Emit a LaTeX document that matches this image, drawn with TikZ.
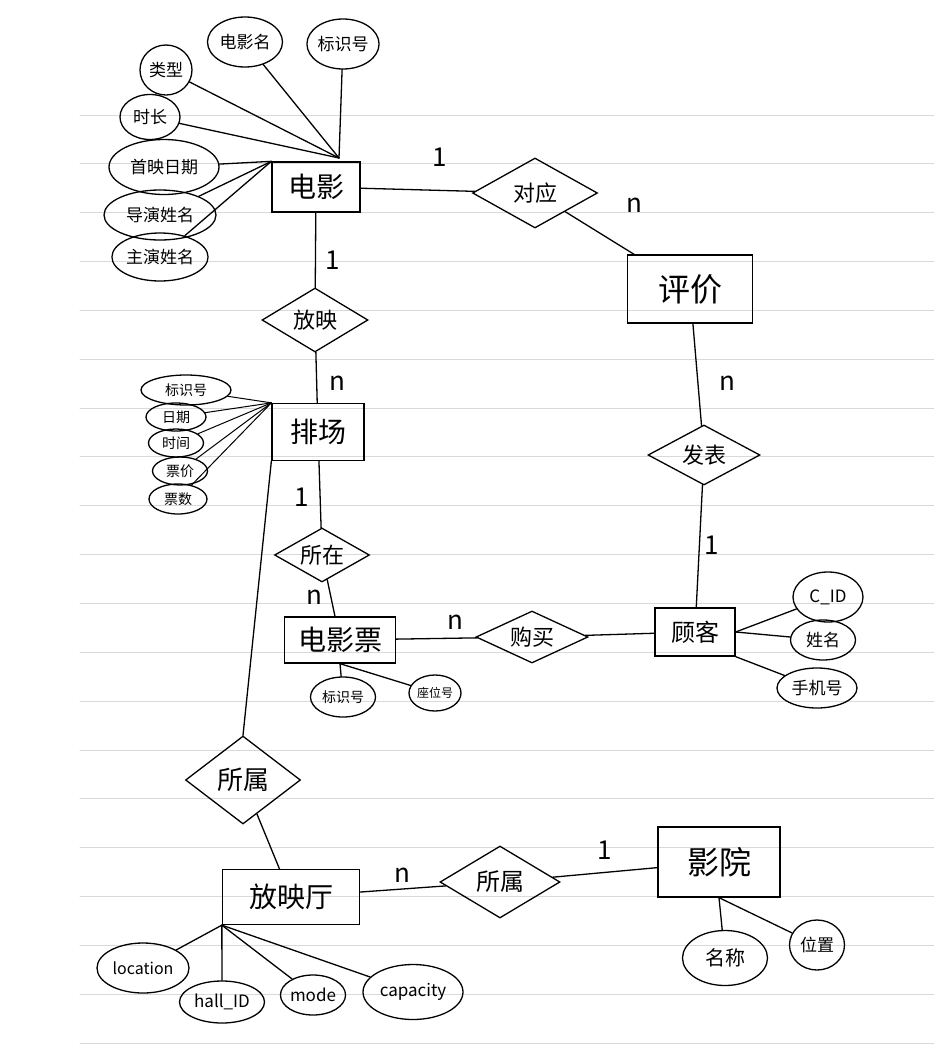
\documentclass[tikz,border=0pt]{standalone}
\usepackage{fontspec}
\setmainfont{Noto Sans CJK SC}
\usetikzlibrary{shapes.geometric,positioning}

\begin{document}
\begin{tikzpicture}[x=1pt,y=-1pt,line width=1.3pt,line cap=round,
  entity/.style={draw,rectangle,inner sep=2pt,font=\fontsize{28}{28}\selectfont},
  relation/.style={draw,diamond,aspect=1.8,inner sep=0pt,font=\fontsize{22}{22}\selectfont},
  attr/.style={draw,ellipse,inner sep=0pt,font=\fontsize{17}{17}\selectfont},
  small/.style={attr,font=\fontsize{14}{14}\selectfont},
  card/.style={font=\fontsize{26}{26}\selectfont}]
  \useasboundingbox (0,0) rectangle (934,1060);
  \fill[white] (0,0) rectangle (934,1060);
  % ruled paper
  \foreach \k in {0,...,19}
    \draw[black!15,line width=1pt] (80,115+48.85*\k) -- (934,115+48.85*\k);

  % entities
  \node[entity,minimum width=88,minimum height=50] (movie) at (316,187) {电影};
  \node[entity,minimum width=125,minimum height=68,font=\fontsize{32}{32}\selectfont] (review) at (690,289) {评价};
  \node[entity,minimum width=92,minimum height=57] (show) at (318,432) {排场};
  \node[entity,minimum width=111,minimum height=46] (ticket) at (340,640) {电影票};
  \node[entity,minimum width=80,minimum height=48,font=\fontsize{24}{24}\selectfont] (customer) at (695,632) {顾客};
  \node[entity,minimum width=137,minimum height=55] (hall) at (291,897) {放映厅};
  \node[entity,minimum width=122,minimum height=70,font=\fontsize{32}{32}\selectfont] (cinema) at (719,862) {影院};

  % relationships
  \node[relation,minimum width=125,minimum height=70] (match) at (535,193) {对应};
  \node[relation,minimum width=106,minimum height=64] (screen) at (315,320) {放映};
  \node[relation,minimum width=95,minimum height=54] (locate) at (322,555) {所在};
  \node[relation,minimum width=112,minimum height=52] (buy) at (532,637) {购买};
  \node[relation,minimum width=112,minimum height=60] (post) at (704,455) {发表};
  \node[relation,minimum width=115,minimum height=88,font=\fontsize{26}{26}\selectfont] (belong) at (243,780) {所属};
  \node[relation,minimum width=120,minimum height=72,font=\fontsize{24}{24}\selectfont] (own) at (500,882) {所属};

  % attributes of the film
  \node[attr,minimum width=52,minimum height=50] (mtype) at (166,70) {类型};
  \node[attr,minimum width=75,minimum height=50] (mname) at (245,42) {电影名};
  \node[attr,minimum width=72,minimum height=50] (mid) at (343,44) {标识号};
  \node[attr,minimum width=60,minimum height=45] (mlen) at (150,117) {时长};
  \node[attr,minimum width=110,minimum height=55] (mdate) at (164,167) {首映日期};
  \node[attr,minimum width=112,minimum height=50] (mdir) at (160,215) {导演姓名};
  \node[attr,minimum width=95,minimum height=48] (mstar) at (160,257) {主演姓名};
  \coordinate (mhub) at (339,158);

  % attributes of the showing
  \node[small,minimum width=90,minimum height=30] (sid) at (186,390) {标识号};
  \node[small,minimum width=60,minimum height=28] (sdate) at (176,417) {日期};
  \node[small,minimum width=55,minimum height=28] (stime) at (176,443) {时间};
  \node[small,minimum width=55,minimum height=28] (sprice) at (180,471) {票价};
  \node[small,minimum width=58,minimum height=30] (snum) at (178,499) {票数};

  % attributes of the ticket, customer, hall, cinema
  \node[small,minimum width=65,minimum height=40] (tid) at (343,697) {标识号};
  \node[attr,minimum width=52,minimum height=36,font=\fontsize{12}{12}\selectfont] (tseat) at (435,693) {座位号};
  \node[attr,minimum width=70,minimum height=50] (cid) at (828,597) {C\_ID};
  \node[attr,minimum width=65,minimum height=40] (cname) at (823,640) {姓名};
  \node[attr,minimum width=80,minimum height=40] (cphone) at (817,688) {手机号};
  \node[attr,minimum width=92,minimum height=50,font=\fontsize{16}{16}\selectfont] (hloc) at (143,968) {location};
  \node[attr,minimum width=85,minimum height=42] (hid) at (222,1002) {hall\_ID};
  \node[attr,minimum width=60,minimum height=40] (hmode) at (313,995) {mode};
  \node[attr,minimum width=100,minimum height=55] (hcap) at (413,992) {capacity};
  \node[attr,minimum width=85,minimum height=55,font=\fontsize{20}{20}\selectfont] (kname) at (725,958) {名称};
  \node[attr,minimum width=55,minimum height=50] (kplace) at (817,945) {位置};

  % cardinalities
  \node[card] (n1) at (440,157) {1};
  \node[card] (n2) at (634,205) {n};
  \node[card] (n3) at (333,260) {1};
  \node[card] (n4) at (337,383) {n};
  \node[card] (n5) at (727,383) {n};
  \node[card] (n6) at (712,545) {1};
  \node[card] (n7) at (302,497) {1};
  \node[card] (n8) at (314,597) {n};
  \node[card] (n9) at (455,622) {n};
  \node[card] (n10) at (402,875) {n};
  \node[card] (n11) at (605,850) {1};

  % relationship links
  \draw (movie) -- (match);
  \draw (match) -- (review);
  \draw (movie) -- (screen);
  \draw (screen) -- (show);
  \draw (review) -- (post);
  \draw (post) -- (customer);
  \draw (show) -- (locate);
  \draw (locate) -- (ticket);
  \draw (ticket) -- (buy);
  \draw (buy) -- (customer);
  \draw (show.south west) -- (belong.north);
  \draw (belong) -- (hall);
  \draw (hall) -- (own);
  \draw (own) -- (cinema);

  % attribute links
  \foreach \a in {mtype,mname,mid,mlen}
    \draw (\a) -- (mhub);
  \foreach \a in {mdate,mdir,mstar}
    \draw (\a) -- (movie.north west);
  \foreach \a in {sid,sdate,stime,sprice,snum}
    \draw[line width=1pt] (\a) -- (show.north west);
  \draw (tid) -- (ticket.south);
  \draw (tseat) -- (ticket.south);
  \draw (cid) -- (customer.east);
  \draw (cname) -- (customer.east);
  \draw (cphone) -- (customer.south east);
  \foreach \a in {hloc,hid,hmode,hcap}
    \draw (\a) -- (hall.south west);
  \draw (kname) -- (cinema.south);
  \draw (kplace) -- (cinema.south);
\end{tikzpicture}
\end{document}
